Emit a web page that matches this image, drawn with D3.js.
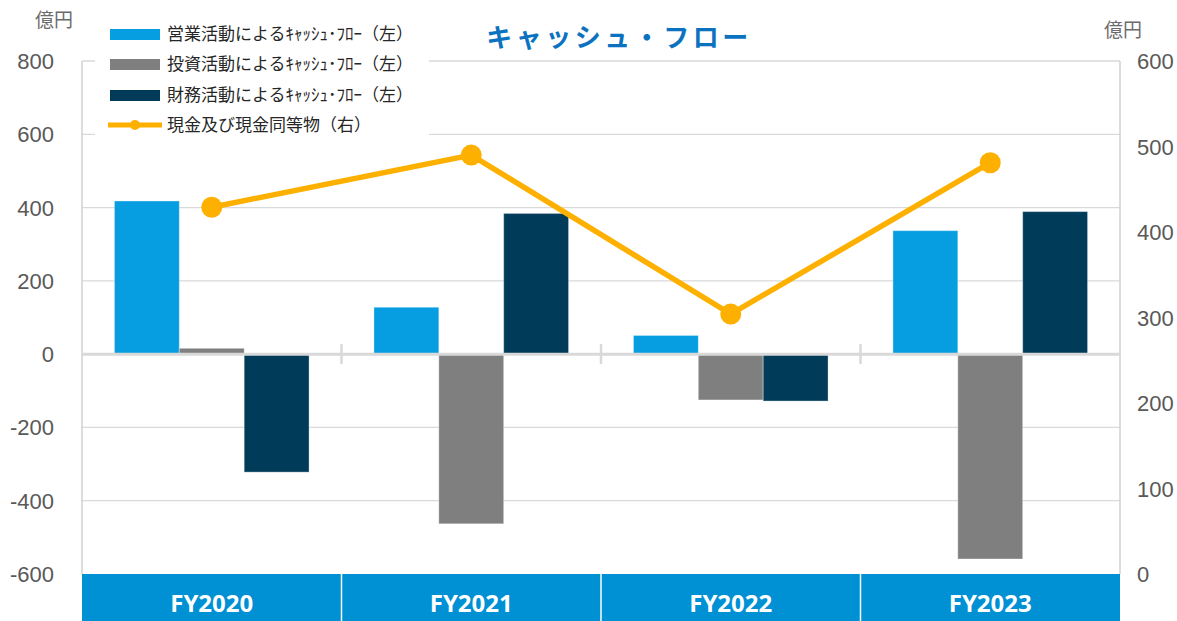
<!DOCTYPE html>
<html lang="ja">
<head>
    <meta charset="UTF-8">
    <title>キャッシュ・フロー</title>
    <script src="https://d3js.org/d3.v7.min.js"></script>
    <style>
        body { margin: 0; background: #fff; }
        text { font-family: "Liberation Sans", "Noto Sans CJK JP", sans-serif; }
        .jp { font-family: "Noto Sans CJK JP", sans-serif; }
        .grid line { stroke: #d9d9d9; stroke-width: 1.3; }
        .tick-label { fill: #595959; font-size: 22px; }
    </style>
</head>
<body>
<script>
    const width = 1177;
    const height = 621;

    // data (億円)
    const years = ["FY2020", "FY2021", "FY2022", "FY2023"];
    const operating = [418, 128, 51, 337];
    const investing = [16, -463, -125, -559];
    const financing = [-322, 384, -128, 389];
    const cash = [429, 490, 304, 481];
    const leftTicks = [-600, -400, -200, 0, 200, 400, 600, 800];
    const rightTicks = [0, 100, 200, 300, 400, 500, 600];

    const seriesNames = ["営業活動によるｷｬｯｼｭ･ﾌﾛｰ（左）", "投資活動によるｷｬｯｼｭ･ﾌﾛｰ（左）", "財務活動によるｷｬｯｼｭ･ﾌﾛｰ（左）"];
    const lineName = "現金及び現金同等物（右）";
    const colors = ["#069ee1", "#7f7f7f", "#003b5a"];
    const lineColor = "#fdb000";

    const plot = {left: 82, right: 1120, top: 61, bottom: 574};

    const svg = d3.select("body").append("svg")
        .attr("width", width).attr("height", height);

    const x = d3.scaleBand().domain(years).range([plot.left, plot.right]);
    const sub = d3.scaleBand().domain([0, 1, 2]).range([0, x.bandwidth()]).paddingOuter(0.5).paddingInner(0);
    const y = d3.scaleLinear().domain([-600, 800]).range([plot.bottom, plot.top]);
    const y2 = d3.scaleLinear().domain([0, 600]).range([plot.bottom, plot.top]);

    // gridlines
    svg.append("g").attr("class", "grid")
        .selectAll("line").data(leftTicks.filter(d => d !== 0 && d !== -600)).enter()
        .append("line")
        .attr("x1", plot.left).attr("x2", plot.right)
        .attr("y1", d => y(d)).attr("y2", d => y(d));

    // side axis lines
    svg.append("line").attr("x1", plot.left).attr("x2", plot.left)
        .attr("y1", plot.top).attr("y2", plot.bottom).attr("stroke", "#d0d0d0").attr("stroke-width", 1.5);
    svg.append("line").attr("x1", plot.right).attr("x2", plot.right)
        .attr("y1", plot.top).attr("y2", plot.bottom).attr("stroke", "#d0d0d0").attr("stroke-width", 1.5);

    // bars
    const allSeries = [operating, investing, financing];
    allSeries.forEach(function(vals, i) {
        svg.append("g").selectAll("rect").data(vals).enter()
            .append("rect")
            .attr("x", (d, j) => x(years[j]) + sub(i))
            .attr("width", sub.bandwidth())
            .attr("y", d => y(Math.max(0, d)))
            .attr("height", d => Math.abs(y(d) - y(0)))
            .attr("fill", colors[i])
            .attr("stroke", "rgba(255,255,255,0.35)")
            .attr("stroke-width", 1);
    });

    // zero axis with ticks at category boundaries
    svg.append("line").attr("x1", plot.left).attr("x2", plot.right)
        .attr("y1", y(0)).attr("y2", y(0)).attr("stroke", "#d9d9d9").attr("stroke-width", 3);
    svg.append("g").selectAll("line").data(years.slice(1)).enter()
        .append("line")
        .attr("x1", d => x(d)).attr("x2", d => x(d))
        .attr("y1", y(0) - 10).attr("y2", y(0) + 10)
        .attr("stroke", "#d9d9d9").attr("stroke-width", 2.5);

    // category band at the bottom
    svg.append("rect").attr("x", plot.left).attr("y", plot.bottom)
        .attr("width", plot.right - plot.left).attr("height", height - plot.bottom)
        .attr("fill", "#0090d4");
    svg.append("g").selectAll("line").data(years.slice(1)).enter()
        .append("line")
        .attr("x1", d => x(d)).attr("x2", d => x(d))
        .attr("y1", plot.bottom).attr("y2", height)
        .attr("stroke", "#ffffff").attr("stroke-width", 1.5);
    svg.append("g").selectAll("text").data(years).enter()
        .append("text")
        .attr("x", d => x(d) + x.bandwidth() / 2)
        .attr("y", 612)
        .attr("text-anchor", "middle")
        .attr("fill", "#fff")
        .attr("font-size", 24)
        .attr("font-weight", "bold")
        .style("font-family", "'Open Sans', sans-serif")
        .text(d => d);

    // axis labels
    svg.append("g").selectAll("text").data(leftTicks).enter()
        .append("text").attr("class", "tick-label")
        .attr("x", 54).attr("y", d => y(d) + 8)
        .attr("text-anchor", "end")
        .text(d => d);
    svg.append("g").selectAll("text").data(rightTicks).enter()
        .append("text").attr("class", "tick-label")
        .attr("x", 1137).attr("y", d => y2(d) + 8)
        .attr("text-anchor", "start")
        .text(d => d);

    // cash line
    const line = d3.line()
        .x((d, i) => x(years[i]) + x.bandwidth() / 2)
        .y(d => y2(d));
    svg.append("path").datum(cash)
        .attr("d", line)
        .attr("fill", "none")
        .attr("stroke", lineColor)
        .attr("stroke-width", 5.5);
    svg.append("g").selectAll("circle").data(cash).enter()
        .append("circle")
        .attr("cx", (d, i) => x(years[i]) + x.bandwidth() / 2)
        .attr("cy", d => y2(d))
        .attr("r", 10.5)
        .attr("fill", lineColor);

    // unit labels
    svg.append("text").attr("class", "jp").attr("x", 35).attr("y", 27)
        .attr("fill", "#6b6b6b").attr("font-size", 19).text("億円");
    svg.append("text").attr("class", "jp").attr("x", 1104).attr("y", 37)
        .attr("fill", "#6b6b6b").attr("font-size", 19).text("億円");

    // title
    svg.append("text").attr("class", "jp")
        .attr("x", 619).attr("y", 47)
        .attr("text-anchor", "middle")
        .attr("fill", "#0a72bf")
        .attr("font-size", 26)
        .attr("font-weight", "bold")
        .attr("letter-spacing", 3.5)
        .text("キャッシュ・フロー");

    // legend
    const legend = svg.append("g");
    legend.append("rect").attr("x", 95).attr("y", 18).attr("width", 334).attr("height", 120).attr("fill", "#fff");
    const rowY = [34, 64, 95, 125];
    seriesNames.forEach(function(name, i) {
        legend.append("rect").attr("x", 110).attr("y", rowY[i] - 5).attr("width", 50).attr("height", 11)
            .attr("fill", colors[i]);
        legend.append("text").attr("class", "jp").attr("x", 167).attr("y", rowY[i] + 6)
            .attr("fill", "#262626").attr("font-size", 17).text(name);
    });
    legend.append("line").attr("x1", 108).attr("x2", 162).attr("y1", rowY[3]).attr("y2", rowY[3])
        .attr("stroke", lineColor).attr("stroke-width", 5);
    legend.append("circle").attr("cx", 135).attr("cy", rowY[3]).attr("r", 5).attr("fill", lineColor);
    legend.append("text").attr("class", "jp").attr("x", 167).attr("y", rowY[3] + 6)
        .attr("fill", "#262626").attr("font-size", 17).text(lineName);
</script>
</body>
</html>
